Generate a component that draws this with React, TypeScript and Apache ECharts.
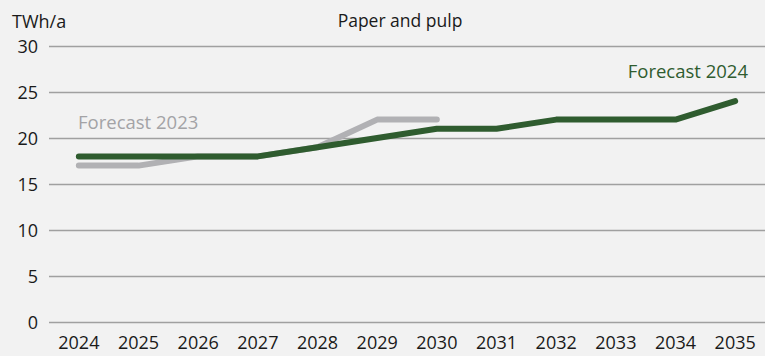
import React, { useEffect, useRef } from "react";
import * as echarts from "echarts";

const years = ["2024", "2025", "2026", "2027", "2028", "2029", "2030", "2031", "2032", "2033", "2034", "2035"];
const forecast2023 = [17, 17, 18, 18, 19, 22, 22];
const forecast2024 = [18, 18, 18, 18, 19, 20, 21, 21, 22, 22, 22, 24];
const yTicks = { min: 0, max: 30, interval: 5 };

const FONT = "'Open Sans', 'Noto Sans', sans-serif";
const GREEN = "#2f5c2f";
const GREY = "#b1b1b4";

export default function App() {
  const ref = useRef<HTMLDivElement>(null);

  useEffect(() => {
    if (!ref.current) return;
    const chart = echarts.init(ref.current, null, { renderer: "svg" });
    chart.setOption({
      animation: false,
      backgroundColor: "#f2f2f2",
      title: {
        text: "Paper and pulp",
        left: 395,
        textAlign: "center",
        top: 6,
        textStyle: { fontFamily: FONT, fontSize: 17.5, fontWeight: "normal", color: "#1a1a1a" },
      },
      graphic: [
        {
          type: "text",
          left: 12,
          top: 12,
          style: { text: "TWh/a", fontFamily: FONT, fontSize: 18, fill: "#1a1a1a" },
        },
        {
          type: "text",
          left: 78,
          top: 112,
          style: { text: "Forecast 2023", fontFamily: FONT, fontSize: 18.5, fill: "#a3a3a6" },
        },
        {
          type: "text",
          right: 17,
          top: 61,
          style: { text: "Forecast 2024", fontFamily: FONT, fontSize: 18.5, fill: GREEN, textAlign: "right" },
        },
      ],
      grid: { left: 49, right: -8, top: 46, bottom: 34, containLabel: false },
      xAxis: {
        type: "category",
        data: years,
        boundaryGap: true,
        axisLine: { show: false },
        axisTick: { show: false },
        axisLabel: { fontFamily: FONT, fontSize: 18, color: "#1a1a1a", margin: 11, interval: 0 },
      },
      yAxis: {
        type: "value",
        min: yTicks.min,
        max: yTicks.max,
        interval: yTicks.interval,
        axisLine: { show: false },
        axisTick: { show: false },
        axisLabel: { fontFamily: FONT, fontSize: 18, color: "#1a1a1a", margin: 11 },
        splitLine: { lineStyle: { color: "#a0a0a0", width: 1.3 } },
      },
      series: [
        {
          name: "Forecast 2023",
          type: "line",
          data: forecast2023,
          symbol: "none",
          z: 2,
          lineStyle: { color: GREY, width: 6, cap: "round", join: "round" },
        },
        {
          name: "Forecast 2024",
          type: "line",
          data: forecast2024,
          symbol: "none",
          z: 3,
          lineStyle: { color: GREEN, width: 6, cap: "round", join: "round" },
        },
      ],
    });
    return () => chart.dispose();
  }, []);

  return (
    <div
      ref={ref}
      style={{ position: "absolute", left: 0, top: 0, width: 765, height: 356 }}
    />
  );
}
